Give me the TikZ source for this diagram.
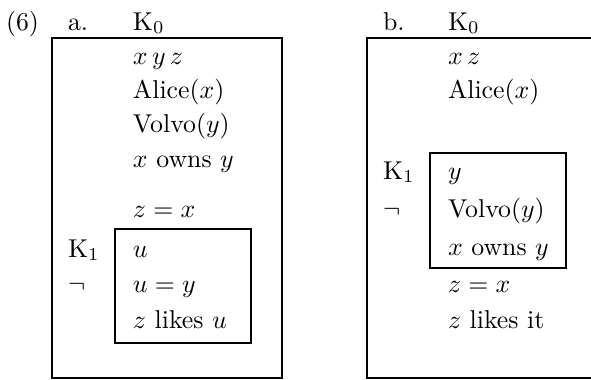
\documentclass[tikz,border=0pt]{standalone}
\begin{document}
\begin{tikzpicture}[x=0.3876pt, y=-0.3876pt,
  txt/.style={anchor=base west, inner sep=0pt, outer sep=0pt},
  box/.style={draw=black, line width=0.7pt}]
\useasboundingbox (0,0) rectangle (591,380);
% ---- labels
\node[txt] (num) at (6,30) {(6)};
\node[txt] (la) at (68,30) {a.};
\node[txt] (ka0) at (133,30) {K$_0$};
\node[txt] (lb) at (383,30) {b.};
\node[txt] (kb0) at (448,30) {K$_0$};
% ---- box a
\draw[box] (52,38) rectangle (282,378);
\draw[box] (115,229) rectangle (251,343);
\node[txt] (a1) at (133,64) {$x\,y\,z$};
\node[txt] (a2) at (133,98) {Alice($x$)};
\node[txt] (a3) at (133,132) {Volvo($y$)};
\node[txt] (a4) at (133,167) {$x$ owns $y$};
\node[txt] (a5) at (133,217) {$z=x$};
\node[txt] (ak1) at (68,257) {K$_1$};
\node[txt] (aneg) at (68,292) {$\neg$};
\node[txt] (a6) at (133,257) {$u$};
\node[txt] (a7) at (133,292) {$u=y$};
\node[txt] (a8) at (133,328) {$z$ likes $u$};
% ---- box b
\draw[box] (591,38) -- (367,38) -- (367,378) -- (591,378);
\draw[box] (430,153) rectangle (566,268);
\node[txt] (b1) at (448,64) {$x\,z$};
\node[txt] (b2) at (448,98) {Alice($x$)};
\node[txt] (bk1) at (383,179) {K$_1$};
\node[txt] (bneg) at (383,217) {$\neg$};
\node[txt] (b3) at (448,179) {$y$};
\node[txt] (b4) at (448,217) {Volvo($y$)};
\node[txt] (b5) at (448,255) {$x$ owns $y$};
\node[txt] (b6) at (448,292) {$z=x$};
\node[txt] (b7) at (448,328) {$z$ likes it};
\end{tikzpicture}
\end{document}
